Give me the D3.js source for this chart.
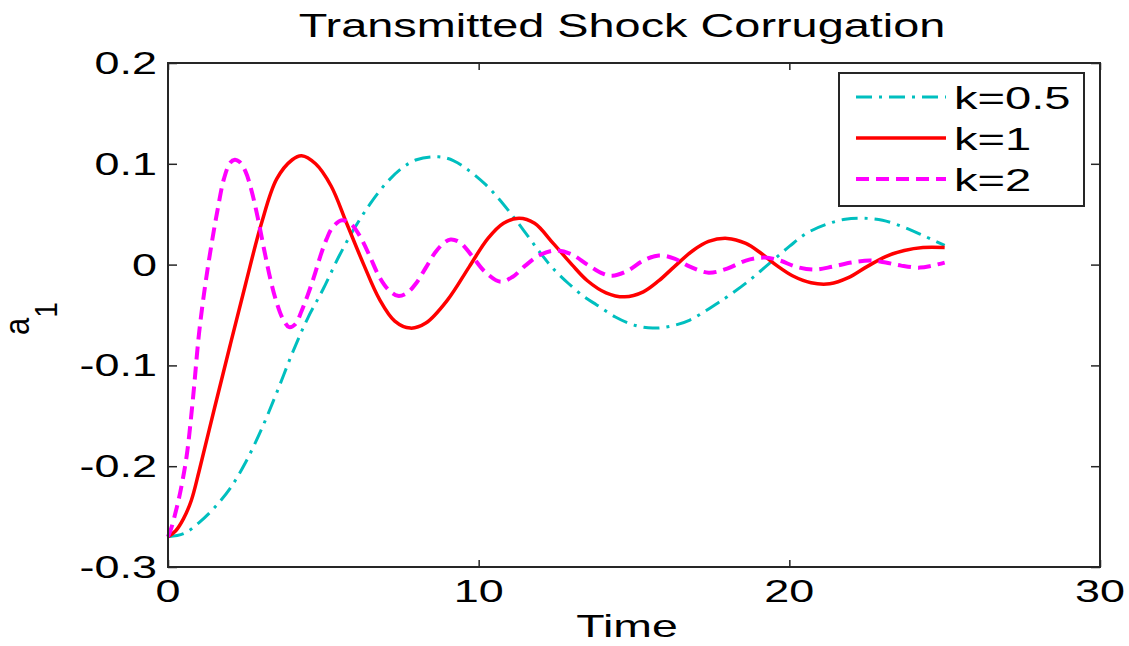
<!DOCTYPE html>
<html>
<head>
<meta charset="utf-8">
<script src="https://cdn.jsdelivr.net/npm/d3@7"></script>
<style>
  html, body { margin: 0; padding: 0; background: #fff; }
  svg { display: block; }
  text { font-family: "Liberation Sans", Arial, Helvetica, sans-serif; fill: #000; }
</style>
</head>
<body>
<svg id="chart" width="1129" height="646"></svg>
<script>
// ---- data: first Fourier amplitude a1 of the transmitted shock vs time ----
const seriesNames = ["k=0.5", "k=1", "k=2"];

const timeK05 = [0, 0.5, 1, 1.5, 2, 2.5, 3, 3.5, 4, 4.5, 5, 5.5, 6, 6.5, 7, 7.5, 8, 8.7, 9.2, 9.7,
  10.2, 10.6, 11, 11.4, 12, 12.4, 12.9, 13.4, 13.8, 14.4, 15, 15.6, 16.2, 16.8, 17.3, 17.7, 18,
  18.7, 19.35, 20, 20.55, 21.2, 21.8, 22.4, 23, 23.7, 24.3, 25];
const a1K05 = [-0.270, -0.267, -0.256, -0.241, -0.222, -0.196, -0.164, -0.127, -0.088, -0.053,
  -0.024, 0.008, 0.036, 0.060, 0.080, 0.095, 0.104, 0.107, 0.103, 0.093,
  0.080, 0.067, 0.052, 0.036, 0.011, -0.004, -0.019, -0.032, -0.040, -0.052, -0.060, -0.063,
  -0.061, -0.055, -0.046, -0.038, -0.032, -0.016, 0.001, 0.018, 0.031, 0.040, 0.045, 0.046,
  0.044, 0.037, 0.029, 0.019];

const timeK1 = [0, 0.25, 0.5, 0.75, 1, 1.5, 2, 2.5, 3, 3.5, 4, 4.3, 4.75, 5.25, 5.75, 6.3, 6.8,
  7.3, 7.8, 8.3, 9, 9.7, 10.3, 10.8, 11.3, 11.8, 12.4, 13, 13.5, 14.1, 14.7, 15.3, 15.8, 16.3,
  16.9, 17.4, 18, 18.6, 19.1, 19.6, 20.1, 20.7, 21.3, 21.9, 22.5, 23.1, 23.7, 24.3, 25];
const a1K1 = [-0.270, -0.264, -0.252, -0.234, -0.205, -0.142, -0.080, -0.019, 0.040, 0.085,
  0.104, 0.108, 0.100, 0.078, 0.041, 0.000, -0.034, -0.056, -0.063, -0.058, -0.035, -0.002,
  0.026, 0.041, 0.046, 0.041, 0.021, 0.000, -0.016, -0.028, -0.032, -0.027, -0.016, -0.002,
  0.014, 0.023, 0.026, 0.021, 0.011, -0.001, -0.011, -0.018, -0.019, -0.013, -0.002, 0.008,
  0.014, 0.017, 0.017];

const timeK2 = [0, 0.1, 0.25, 0.4, 0.6, 0.8, 1, 1.2, 1.4, 1.6, 1.8, 2, 2.15, 2.3, 2.5, 2.7, 2.9,
  3.1, 3.3, 3.5, 3.7, 3.9, 4.1, 4.3, 4.5, 4.7, 4.9, 5.1, 5.3, 5.6, 5.9, 6.2, 6.5, 6.8, 7.1, 7.4,
  7.7, 8, 8.3, 8.6, 8.9, 9.1, 9.4, 9.8, 10.2, 10.7, 11.1, 11.5, 12, 12.5, 13, 13.5, 14, 14.3,
  14.8, 15.3, 15.8, 16.3, 16.8, 17.4, 18, 18.6, 19.2, 19.7, 20.2, 20.8, 21.4, 22, 22.6, 23.1,
  23.6, 24.2, 24.6, 25];
const a1K2 = [-0.270, -0.262, -0.245, -0.225, -0.190, -0.134, -0.068, -0.020, 0.020, 0.055,
  0.085, 0.101, 0.104, 0.102, 0.092, 0.072, 0.045, 0.014, -0.015, -0.038, -0.054, -0.062,
  -0.059, -0.046, -0.030, -0.012, 0.008, 0.025, 0.037, 0.044, 0.040, 0.027, 0.008, -0.012,
  -0.025, -0.031, -0.028, -0.018, -0.003, 0.012, 0.022, 0.025, 0.022, 0.008, -0.007, -0.017,
  -0.012, -0.001, 0.010, 0.014, 0.010, 0.000, -0.009, -0.011, -0.006, 0.004, 0.009, 0.006,
  -0.002, -0.008, -0.004, 0.004, 0.007, 0.004, -0.002, -0.005, -0.002, 0.002, 0.004, 0.002,
  -0.001, -0.003, -0.001, 0.002];

const xTicks = [0, 10, 20, 30];
const yTicks = [-0.3, -0.2, -0.1, 0, 0.1, 0.2];
const yTickLabels = ["-0.3", "-0.2", "-0.1", "0", "0.1", "0.2"];

// ---- layout ----
const svg = d3.select("#chart");
const plot = { left: 168, right: 1100, top: 63, bottom: 567 };
const SX = 1.45;           // horizontal stretch applied to all lettering
const FONT = 31;

const x = d3.scaleLinear().domain([0, 30]).range([plot.left, plot.right]);
const y = d3.scaleLinear().domain([-0.3, 0.2]).range([plot.bottom, plot.top]);

function label(g, px, py, str, size, anchor, sx = SX) {
  return g.append("text")
    .attr("transform", `translate(${px},${py}) scale(${sx},1)`)
    .attr("text-anchor", anchor)
    .style("font-size", size + "px")
    .text(str);
}

// ---- curves ----
const series = [
  { name: seriesNames[0], t: timeK05, v: a1K05, color: "#00BFBF", width: 3, dash: "16,7,3,7" },
  { name: seriesNames[1], t: timeK1,  v: a1K1,  color: "#FF0000", width: 3.5, dash: null },
  { name: seriesNames[2], t: timeK2,  v: a1K2,  color: "#FF00FF", width: 4, dash: "13,7" }
];

const line = d3.line()
  .x(d => x(d[0]))
  .y(d => y(d[1]))
  .curve(d3.curveCatmullRom.alpha(0.5));

const curves = svg.append("g");
series.forEach(s => {
  curves.append("path")
    .datum(d3.zip(s.t, s.v))
    .attr("d", line)
    .attr("fill", "none")
    .attr("stroke", s.color)
    .attr("stroke-width", s.width)
    .attr("stroke-dasharray", s.dash)
    .attr("stroke-linejoin", "round");
});

// ---- axes box with inward ticks on all four sides ----
const axisColor = "#262626";
const gx = svg.append("g").attr("transform", `translate(0,${plot.bottom})`)
  .call(d3.axisBottom(x).tickValues(xTicks).tickSizeInner(-7).tickSizeOuter(0).tickFormat(""));
const gxTop = svg.append("g").attr("transform", `translate(0,${plot.top})`)
  .call(d3.axisTop(x).tickValues(xTicks).tickSizeInner(-7).tickSizeOuter(0).tickFormat(""));
const gy = svg.append("g").attr("transform", `translate(${plot.left},0)`)
  .call(d3.axisLeft(y).tickValues(yTicks).tickSizeInner(-9).tickSizeOuter(0).tickFormat(""));
const gyRight = svg.append("g").attr("transform", `translate(${plot.right},0)`)
  .call(d3.axisRight(y).tickValues(yTicks).tickSizeInner(-9).tickSizeOuter(0).tickFormat(""));
[gx, gxTop, gy, gyRight].forEach(g => {
  g.select(".domain").remove();
  g.selectAll("line").attr("stroke", axisColor).attr("stroke-width", 1.5);
});
svg.append("rect")
  .attr("x", plot.left).attr("y", plot.top)
  .attr("width", plot.right - plot.left).attr("height", plot.bottom - plot.top)
  .attr("fill", "none").attr("stroke", axisColor).attr("stroke-width", 2);

// tick labels
const labels = svg.append("g");
xTicks.forEach(t => label(labels, x(t), 602, String(t), FONT, "middle"));
yTicks.forEach((t, i) => label(labels, 157, y(t) + 11, yTickLabels[i], FONT, "end"));

// titles
label(svg, 622, 37, "Transmitted Shock Corrugation", 33, "middle", 1.42);
label(svg, 627, 637, "Time", FONT, "middle", 1.5);

// y label: a with a deep subscript 1, rotated
const yl = svg.append("text")
  .attr("transform", `translate(29,335) scale(1.15,1) rotate(-90)`)
  .style("font-size", FONT + "px");
yl.append("tspan").text("a");
yl.append("tspan").attr("dy", 24).style("font-size", "28px").text("1");

// ---- legend ----
const leg = svg.append("g");
leg.append("rect")
  .attr("x", 839).attr("y", 73).attr("width", 245).attr("height", 133)
  .attr("fill", "#fff").attr("stroke", axisColor).attr("stroke-width", 2);
series.forEach((s, i) => {
  const ry = 97 + i * 41;
  leg.append("line")
    .attr("x1", 856).attr("x2", 946).attr("y1", ry).attr("y2", ry)
    .attr("stroke", s.color).attr("stroke-width", s.width)
    .attr("stroke-dasharray", s.dash);
  label(leg, 954, ry + 12, s.name, 31, "start", 1.52);
});
</script>
</body>
</html>
